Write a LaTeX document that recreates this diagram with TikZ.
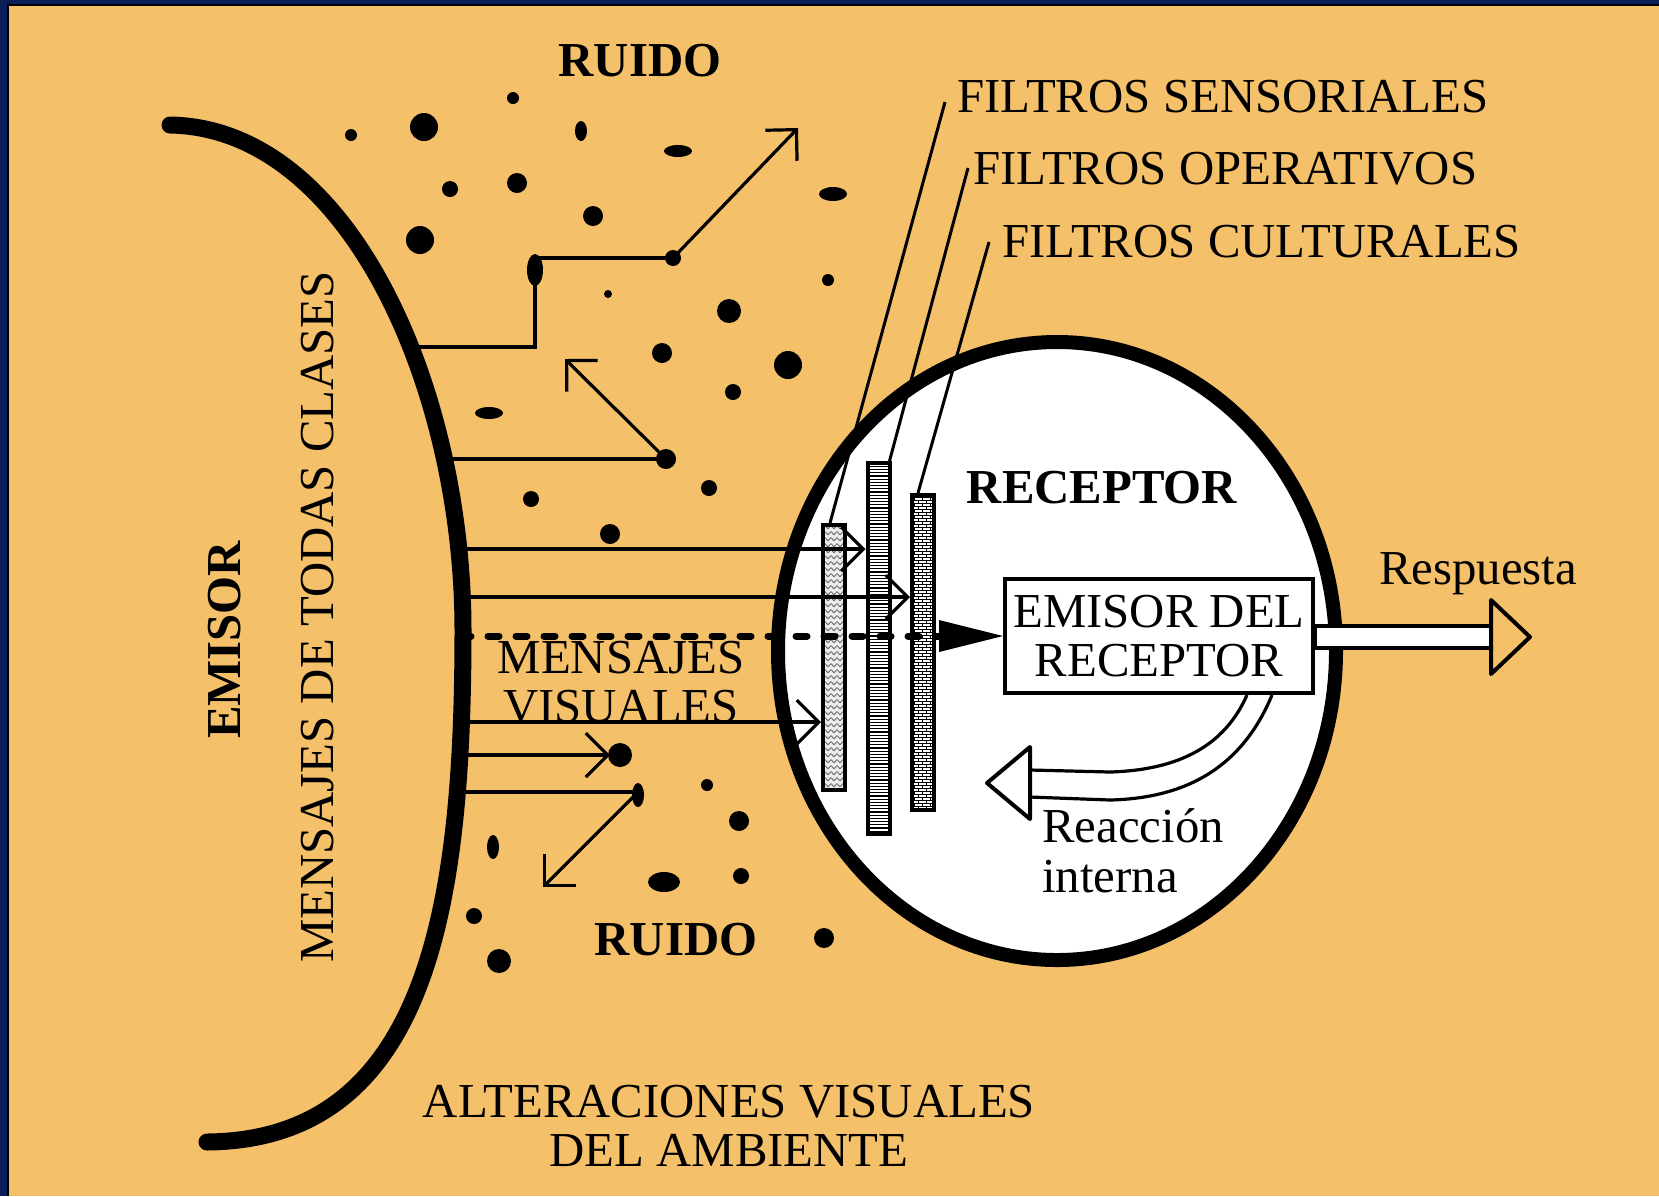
\documentclass[tikz,border=0pt]{standalone}
\usepackage{fontspec}
\setmainfont{Liberation Serif}
\usepackage{tikz}
\usetikzlibrary{arrows.meta,patterns,calc}
\definecolor{fondo}{HTML}{F5C06A}
\definecolor{marco}{HTML}{0A1E5A}

\pgfdeclarepatternformonly{zigzag}{\pgfqpoint{-0.2pt}{-0.2pt}}{\pgfqpoint{3.2pt}{3.2pt}}{\pgfqpoint{3pt}{3pt}}{
  \pgfsetlinewidth{0.4pt}
  \pgfpathmoveto{\pgfqpoint{0pt}{0.6pt}}
  \pgfpathlineto{\pgfqpoint{1.5pt}{2.2pt}}
  \pgfpathlineto{\pgfqpoint{3pt}{0.6pt}}
  \pgfusepath{stroke}}
\pgfdeclarepatternformonly{rayas}{\pgfqpoint{-0.5pt}{-0.5pt}}{\pgfqpoint{2.5pt}{1.6pt}}{\pgfqpoint{2pt}{1.6pt}}{
  \pgfsetlinewidth{0.55pt}
  \pgfpathmoveto{\pgfqpoint{-0.5pt}{0pt}}
  \pgfpathlineto{\pgfqpoint{2.5pt}{0pt}}
  \pgfusepath{stroke}}
\pgfdeclarepatternformonly{ladrillos}{\pgfqpoint{-0.2pt}{-0.2pt}}{\pgfqpoint{4.2pt}{3.2pt}}{\pgfqpoint{4pt}{3pt}}{
  \pgfsetlinewidth{0.4pt}
  \pgfpathmoveto{\pgfqpoint{0pt}{0pt}}\pgfpathlineto{\pgfqpoint{4pt}{0pt}}
  \pgfpathmoveto{\pgfqpoint{0pt}{1.5pt}}\pgfpathlineto{\pgfqpoint{4pt}{1.5pt}}
  \pgfpathmoveto{\pgfqpoint{1pt}{0pt}}\pgfpathlineto{\pgfqpoint{1pt}{1.5pt}}
  \pgfpathmoveto{\pgfqpoint{3pt}{1.5pt}}\pgfpathlineto{\pgfqpoint{3pt}{3pt}}
  \pgfusepath{stroke}}

\tikzset{
  emisor/.style={line width=8.5pt, line cap=round},
  receptor/.style={line width=7pt, fill=white},
  mensaje/.style={line width=1.6pt},
  flecha/.style={mensaje, -{Straight Barb[length=11pt,width=22pt]}},
  punteada/.style={line width=3.5pt, line cap=round, dash pattern=on 5.5pt off 8.5pt},
  filtro/.style={draw, line width=2pt, inner sep=0pt, minimum width=11pt},
  guia/.style={line width=1.5pt},
  reaccion/.style={line width=1.6pt, line join=round},
  texto/.style={font=\fontsize{24.4}{24.8}\selectfont, inner sep=0pt, align=center},
  titulo/.style={texto, font=\fontsize{24.4}{24.8}\selectfont\bfseries},
}

\begin{document}
\begin{tikzpicture}[x=0.5pt,y=-0.5pt]
        \useasboundingbox (0,0) rectangle (1659,1196);
        \fill[fondo] (0,0) rectangle (1659,1196);
        \fill[marco] (0,0) rectangle (1659,4);
        \fill[marco] (0,0) rectangle (7,1196);
        \fill[black] (7,4) rectangle (1659,6);
        \fill[black] (7,4) rectangle (9,1196);

        % receptor
        \draw[receptor] (1057,651) ellipse [x radius=139.5pt, y radius=154.5pt];

        % ruido
        \fill (513,98) circle [radius=3pt];
        \fill (351,135) circle [radius=3pt];
        \fill (424,127) circle [radius=7pt];
        \fill (581,131) ellipse [x radius=3pt, y radius=5pt];
        \fill (678,151) ellipse [x radius=7pt, y radius=3pt];
        \fill (450,189) circle [radius=4pt];
        \fill (517,183) circle [radius=5pt];
        \fill (593,216) circle [radius=5pt];
        \fill (420,240) circle [radius=7pt];
        \fill (833,194) ellipse [x radius=7pt, y radius=3.5pt];
        \fill (608,294) circle [radius=2pt];
        \fill (828,280) circle [radius=3pt];
        \fill (729,311) circle [radius=6pt];
        \fill (662,353) circle [radius=5pt];
        \fill (788,365) circle [radius=7pt];
        \fill (733,392) circle [radius=4pt];
        \fill (489,413) ellipse [x radius=7pt, y radius=3pt];
        \fill (531,499) circle [radius=4pt];
        \fill (709,488) circle [radius=4pt];
        \fill (610,534) circle [radius=5pt];
        \fill (707,785) circle [radius=3pt];
        \fill (739,821) circle [radius=5pt];
        \fill (493,847) ellipse [x radius=3pt, y radius=6pt];
        \fill (664,882) ellipse [x radius=8pt, y radius=5pt];
        \fill (741,876) circle [radius=4pt];
        \fill (474,916) circle [radius=4pt];
        \fill (499,961) circle [radius=6pt];
        \fill (824,938) circle [radius=5pt];

        % filtros
        \node[filtro, minimum height=132.5pt, preaction={fill=gray!15}, pattern=zigzag, pattern color=gray!80!black] (fsens) at (834,657.5) {};
        \node[filtro, minimum height=185.5pt, preaction={fill=white}, pattern=rayas] (fop) at (878.5,648.5) {};
        \node[filtro, minimum height=157.5pt, preaction={fill=white}, pattern=ladrillos] (fcul) at (923,652.5) {};

        \node[texto, anchor=west] (lsens) at (957,97) {FILTROS SENSORIALES};
        \node[texto, anchor=west] (lop) at (973,169) {FILTROS OPERATIVOS};
        \node[texto, anchor=west] (lcul) at (1002,242) {FILTROS CULTURALES};
        \coordinate (gsens) at (945,102);
        \coordinate (gop) at (968,168);
        \coordinate (gcul) at (989,242);
        \draw[guia] ([xshift=-2pt]fsens.north) -- (gsens);
        \draw[guia] ([xshift=-1pt]fop.north east) -- (gop);
        \draw[guia] ([xshift=-2.5pt]fcul.north) -- (gcul);

        % mensajes
        \coordinate (e1) at (410,347);
        \coordinate (e2) at (445,459);
        \coordinate (e3) at (456,549);
        \coordinate (e4) at (459,597);
        \coordinate (e5) at (460,636);
        \coordinate (e6) at (457,722);
        \coordinate (e7) at (454,755);
        \coordinate (e8) at (450,792);
        \coordinate (b1) at (535,258);
        \coordinate (p1) at (673,258);
        \coordinate (a1) at (798,128);
        \coordinate (p2) at (666,459);
        \coordinate (a2) at (565,359);
        \coordinate (p3) at (620,755);
        \coordinate (b2) at (638,792);
        \coordinate (a3) at (543,887);

        \fill (535,270) ellipse [x radius=4pt, y radius=8pt];
        \fill (p1) circle [radius=4pt];
        \fill (p2) circle [radius=5pt];
        \fill (p3) circle [radius=6pt];
        \fill (638,795) ellipse [x radius=3pt, y radius=6pt];

        \draw[mensaje] (e1) -| (b1) -- (p1);
        \draw[flecha] (p1) -- (a1);
        \draw[mensaje] (e2) -- (p2);
        \draw[flecha] (p2) -- (a2);
        \draw[flecha] (e3) -- (e3 -| fop.west);
        \draw[flecha] (e4) -- (e4 -| fcul.west);
        \draw[flecha] (e6) -- (e6 -| fsens.west);
        \draw[flecha] (e7) -- ([xshift=-5pt]p3);
        \draw[mensaje] (e8) -- (b2);
        \draw[flecha] (b2) -- (a3);

        % emisor del receptor
        \node[texto, draw, fill=white, line width=2pt, minimum width=154pt, minimum height=57pt] (caja) at (1159,636) {EMISOR DEL\\RECEPTOR};
        \draw[punteada] (e5) -- ([xshift=-32pt]caja.west);
        \fill (caja.west) -- ++(-32pt,8pt) -- ++(0,-16pt) -- cycle;

        % respuesta
        \coordinate (rbase) at (1491,637);
        \coordinate (rpunta) at (1530,637);
        \draw[line width=2pt, fill=white] ([yshift=5.25pt]caja.east) rectangle (1491,647.5);
        \draw[line width=2pt, line join=round] (1491,600) -- (rpunta) -- (1491,674) -- cycle;
        \node[texto] (resp) at (1478,574) {Respuesta};

        % reaccion interna
        \draw[reaccion] ([xshift=44pt]caja.south) .. controls (1225,745) and (1180,770) .. (1110,772) -- (1030,770);
        \draw[reaccion] ([xshift=56.5pt]caja.south) .. controls (1245,760) and (1195,798) .. (1110,800) -- (1030,797);
        \draw[reaccion, line width=2pt] (1030,747) -- (987,783) -- (1030,819) -- cycle;
        \node[texto, align=left, anchor=west] (reac) at (1042,851) {Reacción\\interna};

        % emisor
        \draw[emisor] (170,125) .. controls (350,128) and (463,390) .. (463,630) .. controls (463,900) and (430,1140) .. (207,1142);

        % textos
        \node[titulo] (ruido1) at (640,61) {RUIDO};
        \node[titulo] (ruido2) at (676,940) {RUIDO};
        \node[titulo] (recep) at (1102,488) {RECEPTOR};
        \node[titulo, rotate=90] (emi) at (225,640) {EMISOR};
        \node[texto, rotate=90] (todas) at (318,617) {MENSAJES DE TODAS CLASES};
        \node[texto] (visuales) at (621,682) {MENSAJES\\VISUALES};
        \node[texto] (ambiente) at (729,1126) {ALTERACIONES VISUALES\\DEL AMBIENTE};
\end{tikzpicture}
\end{document}
